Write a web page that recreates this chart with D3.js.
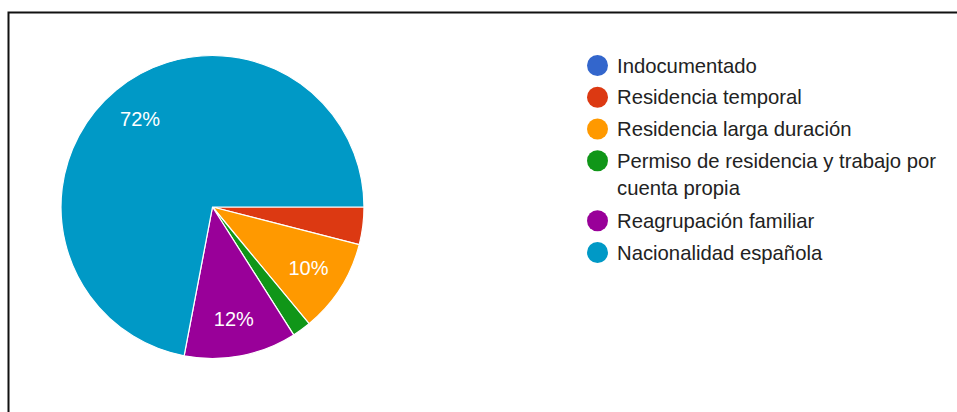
<!DOCTYPE html>
<html><head><meta charset="utf-8">
<script src="https://cdn.jsdelivr.net/npm/d3@7"></script>
<style>html,body{margin:0;padding:0;background:#fff;}svg{display:block;}</style>
</head><body>
<svg id="c" width="957" height="412"></svg>
<script>
const categories = ["Indocumentado","Residencia temporal","Residencia larga duración","Permiso de residencia y trabajo por cuenta propia","Reagrupación familiar","Nacionalidad española"];
const legendLines = [["Indocumentado"],["Residencia temporal"],["Residencia larga duración"],["Permiso de residencia y trabajo por","cuenta propia"],["Reagrupación familiar"],["Nacionalidad española"]];
const counts = [0, 2, 5, 1, 6, 36];
const colors = ["#3366cc","#dc3912","#ff9900","#109618","#990099","#0099c6"];

const FONT = "'Liberation Sans', Arial, sans-serif";
const svg = d3.select("#c");
svg.append("rect").attr("x",8.5).attr("y",12.5).attr("width",1000).attr("height",500)
  .attr("fill","none").attr("stroke","#111").attr("stroke-width",2);

const cx = 212.5, cy = 207, r = 151.5;
const total = d3.sum(counts);
const data = categories.map((c,i)=>({c, v:counts[i], col:colors[i]}));
const pie = d3.pie().value(d=>d.v).sort(null).startAngle(Math.PI/2).endAngle(Math.PI/2 + 2*Math.PI);
const arcs = pie(data);
const arc = d3.arc().innerRadius(0).outerRadius(r);
const g = svg.append("g").attr("transform",`translate(${cx},${cy})`);
g.selectAll("path").data(arcs.filter(a=>a.data.v>0)).join("path")
  .attr("d",arc).attr("fill",d=>d.data.col).attr("stroke","#fff").attr("stroke-width",1.2);

const labelArc = d3.arc().innerRadius(r*0.75).outerRadius(r*0.75);
g.selectAll("text").data(arcs.filter(a=>a.data.v/total>=0.05)).join("text")
  .attr("transform",d=>`translate(${labelArc.centroid(d)})`)
  .attr("text-anchor","middle").attr("dominant-baseline","central")
  .attr("fill","#fff").attr("font-family",FONT).attr("font-size",20)
  .text(d=>Math.round(d.data.v/total*100)+"%");

const lg = svg.append("g");
let y = 65.5;
legendLines.forEach((lines,i)=>{
  lg.append("circle").attr("cx",597.5).attr("cy",y).attr("r",10.5).attr("fill",colors[i]);
  lines.forEach((t,j)=>{
    lg.append("text").attr("x",617).attr("y",y + j*27).attr("dominant-baseline","central")
      .attr("font-family",FONT).attr("font-size",20.3).attr("fill","#222").text(t);
  });
  y += 31.75 + (lines.length-1)*28.25;
});
</script>
</body></html>
